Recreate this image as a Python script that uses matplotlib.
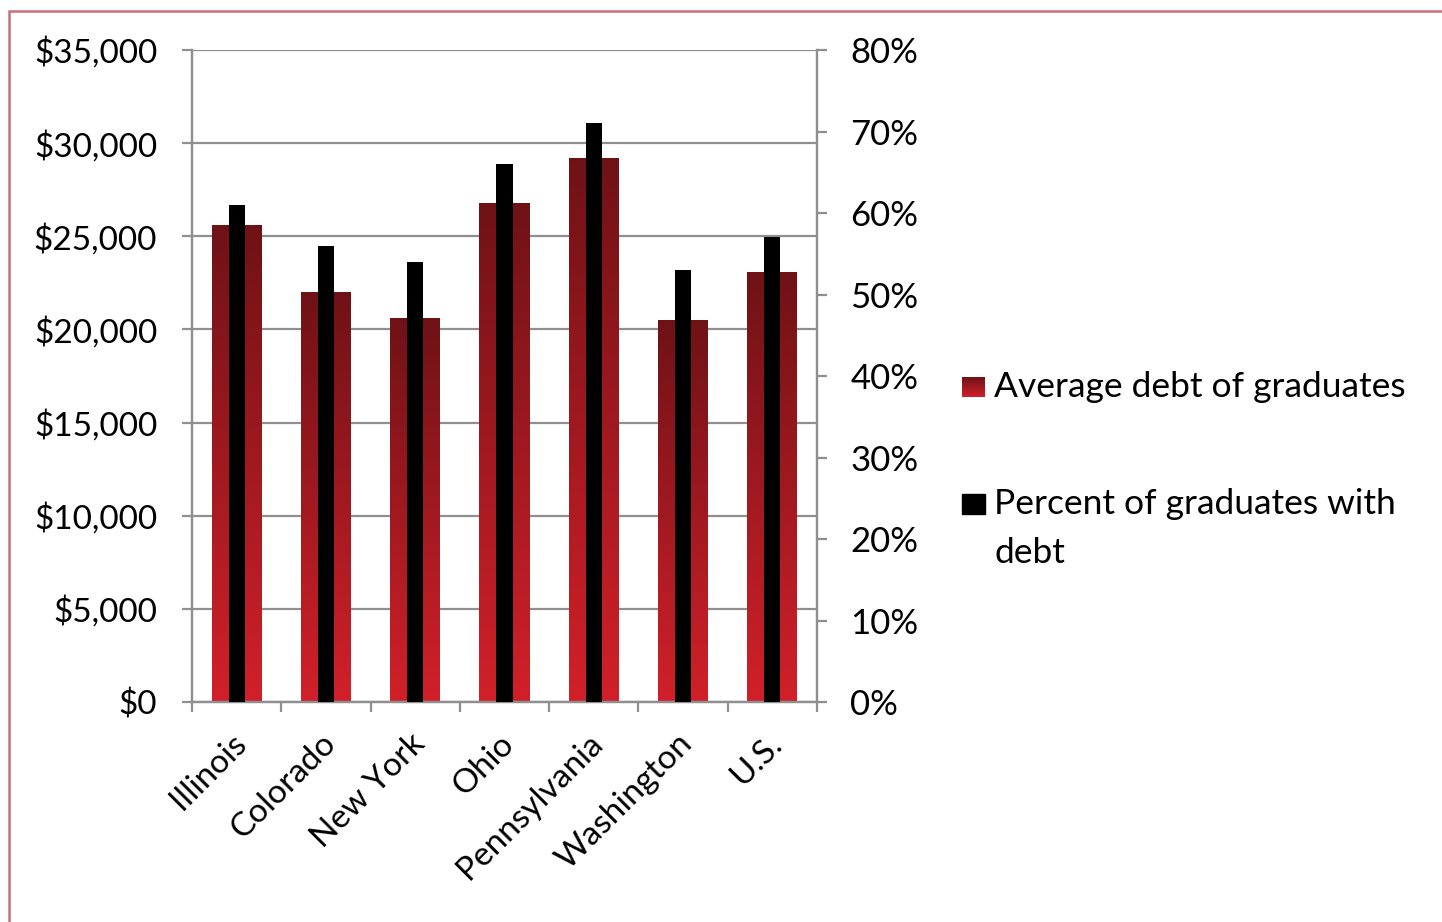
import matplotlib
matplotlib.use("Agg")
import matplotlib.pyplot as plt
import matplotlib.transforms as mtransforms
import numpy as np
from matplotlib.colors import LinearSegmentedColormap
from matplotlib.patches import Rectangle
from matplotlib.ticker import FuncFormatter

# data
states = ["Illinois", "Colorado", "New York", "Ohio", "Pennsylvania", "Washington", "U.S."]
avg_debt = [25600, 22000, 20600, 26800, 29200, 20500, 23100]
pct_with_debt = [61, 56, 54, 66, 71, 53, 57]

plt.rcParams["font.family"] = ["Lato", "DejaVu Sans"]
GRID = "#8f8f8f"
red_grad = LinearSegmentedColormap.from_list("redgrad", ["#d2202a", "#6f1216"])

fig = plt.figure(figsize=(14.42, 9.22), dpi=100)
W, H = 1442, 922
ax = fig.add_axes([192 / W, 1 - 702 / H, (817 - 192) / W, (702 - 50) / H])
ax2 = ax.twinx()

x = np.arange(len(states))
bars = ax.bar(x, avg_debt, width=0.56, color="#a01a20", zorder=2)
# vertical gradient inside each red bar (dark at top, bright at bottom)
grad = np.linspace(0, 1, 256).reshape(-1, 1)
for b in bars:
    x0, w, h = b.get_x(), b.get_width(), b.get_height()
    im = ax.imshow(grad, cmap=red_grad, aspect="auto", origin="lower",
                   extent=[x0, x0 + w, 0, h], zorder=2.1)
    im.set_clip_path(b)

ax2.bar(x, pct_with_debt, width=0.18, color="black", zorder=3)

ax.set_xlim(-0.5, len(states) - 0.5)
ax.set_ylim(0, 35000)
ax2.set_ylim(0, 80)
ax.set_yticks(np.arange(0, 35001, 5000))
ax2.set_yticks(np.arange(0, 81, 10))
ax.yaxis.set_major_formatter(FuncFormatter(lambda v, p: f"${v:,.0f}"))
ax2.yaxis.set_major_formatter(FuncFormatter(lambda v, p: f"{v:.0f}%"))

ax.grid(axis="y", color=GRID, linewidth=1.6, zorder=1)
ax.set_axisbelow(True)

for a in (ax, ax2):
    a.spines["top"].set_visible(False)
    for s in ("left", "right", "bottom"):
        a.spines[s].set_color(GRID)
        a.spines[s].set_linewidth(1.6)

ax.tick_params(axis="y", length=7, width=1.6, color=GRID, labelsize=24, pad=18)
ax2.tick_params(axis="y", length=7, width=1.6, color=GRID, labelsize=25, pad=17)

ax.set_xticks(x)
ax.set_xticklabels(states, rotation=45, ha="right", rotation_mode="anchor", fontsize=24)
ax.tick_params(axis="x", which="major", length=0, pad=19)
shift = mtransforms.ScaledTranslation(-6 / 100, 0, fig.dpi_scale_trans)
for lbl in ax.get_xticklabels():
    lbl.set_transform(lbl.get_transform() + shift)
ax.set_xticks(np.arange(-0.5, len(states)), minor=True)
ax.tick_params(axis="x", which="minor", length=7, width=1.6, color=GRID)

# legend drawn by hand to match the wrapped label
leg_ax = fig.add_axes([962 / W, 1 - 397 / H, 23 / W, 20 / H])
leg_ax.imshow(grad, cmap=red_grad, aspect="auto", origin="lower", extent=[0, 1, 0, 1])
leg_ax.set_axis_off()
fig.patches.append(Rectangle((962 / W, 1 - 514 / H), 23 / W, 20 / H,
                             transform=fig.transFigure, color="black"))
fig.text(994 / W, 1 - 387 / H, "Average debt of graduates", fontsize=25.5, va="center")
fig.text(994 / W, 1 - 488 / H, "Percent of graduates with\ndebt", fontsize=25.5,
         va="top", linespacing=1.65)

# thin reddish frame around the chart
fig.patches.append(Rectangle((9 / W, -0.05), 1.1, 1 - 11 / H + 0.05,
                             transform=fig.transFigure, fill=False,
                             edgecolor="#c8707a", linewidth=1.8))

fig.savefig("out.png", dpi=100)
